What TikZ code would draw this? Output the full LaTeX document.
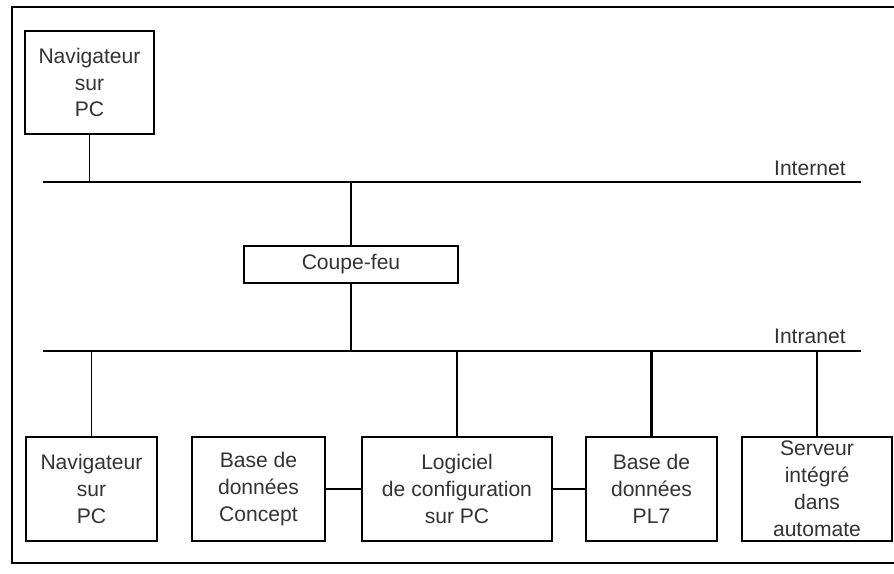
\documentclass[tikz,border=0pt]{standalone}
\usepackage{fontspec}
\setmainfont{Liberation Sans}
\usetikzlibrary{calc}
\tikzset{
	every node/.style={font=\fontsize{12}{15.3}\selectfont, text=black!80},
	align=center,
	box/.style={
		draw,
		rectangle,
		inner sep=0pt,
		line width=0.7pt,
	},
	bigbox/.style={
		box,
		line width=1.5pt,
		minimum height=2.08cm,
	},
	bus/.style={line width=1.5pt},
	link/.style={line width=0.7pt},
	frame/.style={line width=0.9pt},
	netname/.style={anchor=base east, inner sep=0pt},
}

\begin{document}
\begin{tikzpicture}[x=0.02cm, y=-0.02cm]
		\useasboundingbox (0,0) rectangle (894,574);
		\draw[frame] (12,7) rectangle (899,563);

		% les deux reseaux
		\coordinate (inetW) at (43,182);
		\coordinate (inetE) at (861,182);
		\coordinate (lanW) at (43,351);
		\coordinate (lanE) at (861,351);
		\draw[bus] (inetW) -- (inetE);
		\draw[bus] (lanW) -- (lanE);
		\node[netname] (inetname) at (846,176) {Internet};
		\node[netname] (lanname) at (846,344) {Intranet};

		\node[box, minimum width=2.58cm, minimum height=2.06cm] (navtop) at (89.5,82.5) {Navigateur\\sur\\PC};
		\node[box, line width=1.5pt, minimum width=4.28cm, minimum height=0.74cm] (firewall) at (351,264.5) {Coupe-feu};

		\node[bigbox, minimum width=2.62cm] (navpc) at (91.5,489) {Navigateur\\sur\\PC};
		\node[bigbox, minimum width=2.66cm] (dbconcept) at (258.5,489) {Base de\\données\\Concept};
		\node[bigbox, minimum width=3.80cm] (config) at (457,489) {Logiciel\\de configuration\\sur PC};
		\node[bigbox, minimum width=2.62cm] (dbpl) at (651.5,489) {Base de\\données\\PL7};
		\node[bigbox, minimum width=3.00cm] (server) at (817,489) {Serveur\\intégré\\dans\\automate};

		\draw[link] (navtop.south) -- (navtop.south |- inetW);
		\draw[bus] (firewall.north) -- (firewall.north |- inetW);
		\draw[bus] (firewall.south) -- (firewall.south |- lanW);

		\draw[link] (navpc.north) -- (navpc.north |- lanW);
		\draw[link] (config.north) -- (config.north |- lanW);
		\draw[bus] (dbpl.north) -- (dbpl.north |- lanW);
		\draw[link] (server.north) -- (server.north |- lanW);

		\draw[link] (dbconcept.east) -- (config.west);
		\draw[link] (config.east) -- (dbpl.west);
	\end{tikzpicture}
\end{document}
